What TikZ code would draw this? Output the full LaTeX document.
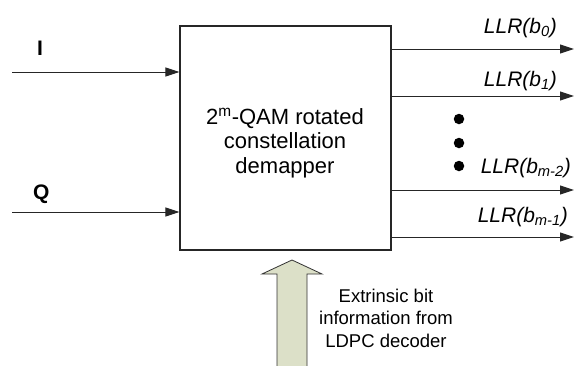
\documentclass[tikz,border=0pt]{standalone}
\usepackage{fontspec}
\setmainfont{Liberation Sans}
\usetikzlibrary{arrows.meta}
\begin{document}
\begin{tikzpicture}[x=1pt,y=-1pt,
  sig/.style={draw=black!85, line width=1pt, -{Triangle[length=14pt,width=9pt]}},
  llr/.style={font=\fontsize{21}{24}\selectfont\itshape, anchor=base east, inner sep=0pt},
  inlab/.style={font=\fontsize{21}{24}\selectfont\bfseries, anchor=base west, inner sep=0pt},
  dot/.style={circle, fill=black, inner sep=0pt, minimum size=10.5pt}]
\useasboundingbox (0,0) rectangle (574,365);
% main block
\node[draw=black!85, line width=1.2pt, minimum width=211pt, minimum height=224pt, inner sep=0pt] (demap) at (285.5,138) {};
\node[align=center, font=\fontsize{22}{24.5}\selectfont, inner sep=0pt, anchor=base] (dtxt) at (285,173)
  {2\textsuperscript{m}-QAM rotated\\constellation\\demapper};
% inputs
\coordinate (iin) at (12,72);
\coordinate (qin) at (12,212);
\draw[sig] (iin) -- (iin -| demap.west);
\draw[sig] (qin) -- (qin -| demap.west);
\node[inlab] (ilab) at (37,55) {I};
\node[inlab] (qlab) at (33,199) {Q};
% outputs
\coordinate (o0) at (574,49);
\coordinate (o1) at (574,96);
\coordinate (o2) at (574,190);
\coordinate (o3) at (574,237);
\draw[sig] (o0 -| demap.east) -- (o0);
\draw[sig] (o1 -| demap.east) -- (o1);
\draw[sig] (o2 -| demap.east) -- (o2);
\draw[sig] (o3 -| demap.east) -- (o3);
\node[llr] (l0) at (557,33) {LLR(b\textsubscript{0})};
\node[llr] (l1) at (557,86) {LLR(b\textsubscript{1})};
\node[llr] (l2) at (571,173) {LLR(b\textsubscript{m-2})};
\node[llr] (l3) at (568,222) {LLR(b\textsubscript{m-1})};
\node[dot] (d1) at (459,119) {};
\node[dot] (d2) at (459,143) {};
\node[dot] (d3) at (459,166) {};
% extrinsic block arrow
\coordinate (tip) at (292,260);
\draw[fill={rgb,255:red,220;green,224;blue,200}, draw=black!80, line width=0.8pt]
  (tip) -- (322,274) -- (307,274) -- (307,368) -- (277,368) -- (277,274) -- (262,274) -- cycle;
\node[align=center, font=\fontsize{18.5}{22.5}\selectfont, inner sep=0pt, anchor=base] (ext) at (386,347)
  {Extrinsic bit\\information from\\LDPC decoder};
\end{tikzpicture}
\end{document}
